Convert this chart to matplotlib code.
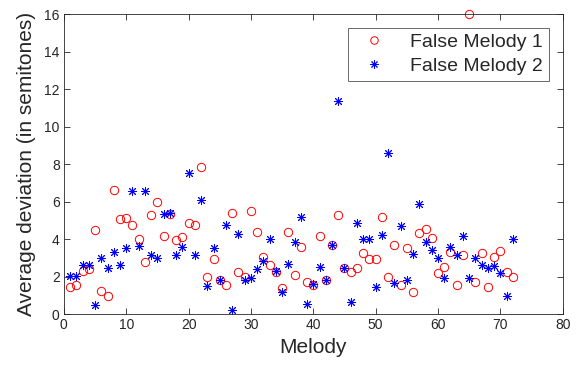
import numpy as np
import matplotlib.pyplot as plt

plt.rcParams['font.family'] = ['Liberation Sans', 'DejaVu Sans']

melody = np.arange(1, 73)

# false melody 1 (red circles)
fm1 = [1.45, 1.54, 2.32, 2.39, 4.47, 1.24, 0.97, 6.62, 5.09, 5.11,
       4.77, 3.99, 2.77, 5.29, 5.97, 4.17, 5.33, 3.96, 4.10, 4.85,
       4.76, 7.83, 1.97, 2.96, 1.82, 1.56, 5.41, 2.27, 1.97, 5.49,
       4.40, 3.07, 2.61, 2.27, 1.41, 4.38, 2.07, 3.57, 1.72, 1.56,
       4.17, 1.82, 3.67, 5.29, 2.46, 2.23, 2.46, 3.28, 2.96, 2.96,
       5.20, 1.97, 3.71, 1.56, 3.53, 1.20, 4.31, 4.53, 4.06, 2.18,
       2.53, 3.32, 1.56, 3.14, 16.0, 1.73, 3.28, 1.47, 3.07, 3.39,
       2.27, 1.97]

# false melody 2 (blue stars)
fm2 = [2.04, 2.04, 2.61, 2.61, 0.47, 3.00, 2.45, 3.30, 2.61, 3.55,
       6.59, 3.65, 6.59, 3.16, 3.01, 5.33, 5.38, 3.16, 3.56, 7.55,
       3.17, 6.09, 1.52, 3.53, 1.82, 4.74, 0.22, 4.26, 1.82, 1.95,
       2.39, 2.84, 3.99, 2.30, 1.20, 2.68, 3.85, 5.20, 0.53, 1.59,
       2.53, 1.82, 3.67, 11.37, 2.46, 0.63, 4.85, 3.99, 3.99, 1.47,
       4.22, 8.58, 1.68, 4.70, 1.82, 3.21, 5.88, 3.85, 3.42, 2.98,
       1.95, 3.57, 3.14, 4.17, 1.95, 2.98, 2.61, 2.45, 2.57, 2.18,
       0.99, 3.99]

fig = plt.figure(figsize=(5.77, 3.70), dpi=100)
ax = fig.add_axes([0.1107, 0.1508, 0.8645, 0.8108])

ax.plot(melody, fm1, 'o', color='#ff0000', mfc='none', ms=6, mew=0.7,
        label='False Melody 1', clip_on=False)
ax.plot(melody, fm2, ls='none', marker=(8, 2, 0), color='#0000ff', ms=6.5,
        mew=0.7, label='False Melody 2', clip_on=False)

ax.set_xlim(0, 80)
ax.set_ylim(0, 16)
ax.set_xticks(np.arange(0, 81, 10))
ax.set_yticks(np.arange(0, 17, 2))
ax.tick_params(direction='in', top=True, right=True, length=4, width=0.6,
               labelsize=10, labelcolor='#262626', color='#262626', pad=3)
for s in ax.spines.values():
    s.set_linewidth(0.6)
    s.set_color('#262626')

ax.set_xlabel('Melody', fontsize=15, color='#262626', labelpad=4)
ax.set_ylabel('Average deviation (in semitones)', fontsize=15,
              color='#262626', labelpad=6)

leg = ax.legend(loc='upper right', fontsize=14, frameon=True, fancybox=False,
                edgecolor='#262626', borderpad=0.3, handletextpad=0.9,
                handlelength=2.0, labelspacing=0.3, borderaxespad=0.7,
                markerscale=0.9)
leg.get_frame().set_linewidth(0.6)
for t in leg.get_texts():
    t.set_color('#262626')

fig.savefig('out.png', dpi=100)
